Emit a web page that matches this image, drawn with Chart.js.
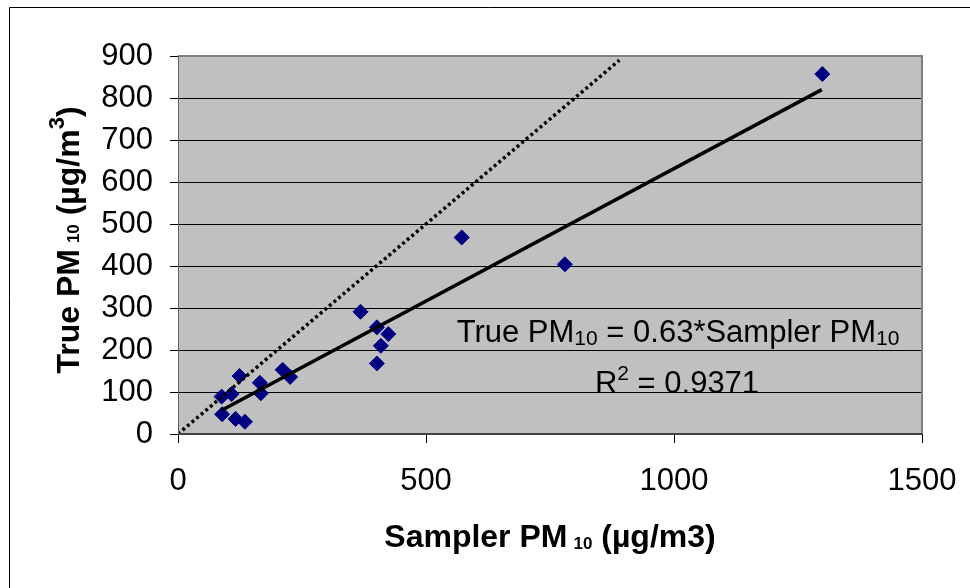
<!DOCTYPE html>
<html>
<head>
<meta charset="utf-8">
<script src="https://cdn.jsdelivr.net/npm/chart.js@4"></script>
<style>
  body { margin: 0; background: #fff; }
  canvas { display: block; }
</style>
</head>
<body>
<canvas id="pmChart" width="970" height="588"></canvas>
<script>
// values
var samplerPM = [368, 401, 424, 409, 401, 211, 226, 165, 167, 124, 88, 108, 89, 116, 135, 572, 780, 1299];
var truePM    = [291, 254, 238, 210, 168, 153, 136, 122, 97, 138, 89, 95, 47, 36, 29, 468, 404, 857];

// trend line ends (True = 0.63 * Sampler) and the 1:1 line
var trendX = [89, 1298];
var trendY = [57, 820];
var oneToOneX = [0, 890];
var oneToOneY = [0, 890];

var xTicks = [0, 500, 1000, 1500];
var yTicks = [0, 100, 200, 300, 400, 500, 600, 700, 800, 900];

var FONT = '"Liberation Sans", Arial, sans-serif';

function toPoints(xs, ys) {
  return xs.map(function (x, i) { return { x: x, y: ys[i] }; });
}

// draws a row of text pieces [text, size, bold, rise, gapAfter] centred on x
function drawPieces(ctx, pieces, cx, baseline) {
  var total = 0;
  pieces.forEach(function (p) {
    ctx.font = (p[2] ? 'bold ' : '') + p[1] + 'px ' + FONT;
    p.w = ctx.measureText(p[0]).width + (p[4] || 0);
    total += p.w;
  });
  var x = cx - total / 2;
  pieces.forEach(function (p) {
    ctx.font = (p[2] ? 'bold ' : '') + p[1] + 'px ' + FONT;
    ctx.fillText(p[0], x, baseline - p[3]);
    x += p.w;
  });
}

var decorPlugin = {
  id: 'decor',
  beforeDraw: function (chart) {
    var ctx = chart.ctx, a = chart.chartArea;
    ctx.save();
    ctx.fillStyle = '#fff';
    ctx.fillRect(0, 0, chart.width, chart.height);
    // outer frame
    ctx.strokeStyle = '#000';
    ctx.lineWidth = 1;
    ctx.beginPath();
    ctx.moveTo(9.5, chart.height);
    ctx.lineTo(9.5, 7.5);
    ctx.lineTo(chart.width, 7.5);
    ctx.stroke();
    // plot area
    ctx.fillStyle = '#c0c0c0';
    ctx.fillRect(a.left, a.top, a.right - a.left, a.bottom - a.top);
    ctx.restore();
  },
  afterDatasetsDraw: function (chart) {
    var ctx = chart.ctx, a = chart.chartArea;
    ctx.save();
    ctx.strokeStyle = '#808080';
    ctx.lineWidth = 2;
    ctx.beginPath();
    ctx.moveTo(a.left, a.top);
    ctx.lineTo(a.right, a.top);
    ctx.lineTo(a.right, a.bottom);
    ctx.stroke();
    ctx.strokeStyle = '#404040';
    ctx.beginPath();
    ctx.moveTo(a.left, a.bottom);
    ctx.lineTo(a.right, a.bottom);
    ctx.stroke();
    ctx.strokeStyle = '#606060';
    ctx.lineWidth = 1;
    ctx.beginPath();
    ctx.moveTo(a.left + 0.5, a.top);
    ctx.lineTo(a.left + 0.5, a.bottom);
    ctx.stroke();
    ctx.restore();
  },
  afterDraw: function (chart) {
    var ctx = chart.ctx, a = chart.chartArea;
    ctx.save();
    ctx.fillStyle = '#000';
    ctx.textAlign = 'left';
    ctx.textBaseline = 'alphabetic';

    // x axis title
    drawPieces(ctx, [
      ['Sampler PM', 32, true, 0, 6],
      ['10', 17, true, -2],
      [' (\u00b5g/m3)', 32, true, 0]
    ], (a.left + a.right) / 2, 547);

    // y axis title
    ctx.translate(79, 240);
    ctx.rotate(-Math.PI / 2);
    drawPieces(ctx, [
      ['True PM', 32, true, 0, 6],
      ['10', 17, true, 0],
      [' (\u00b5g/m', 32, true, 0],
      ['3', 22, true, 15],
      [')', 32, true, 0]
    ], 0, 0);
    ctx.setTransform(1, 0, 0, 1, 0, 0);

    // regression annotation
    drawPieces(ctx, [
      ['True PM', 31, false, 0],
      ['10', 21, false, -3],
      [' = 0.63*Sampler PM', 31, false, 0],
      ['10', 21, false, -3]
    ], 678, 342);
    drawPieces(ctx, [
      ['R', 31, false, 0],
      ['2', 21, false, 13],
      [' = 0.9371', 31, false, 0]
    ], 677, 393);
    ctx.restore();
  }
};

var ctx = document.getElementById('pmChart').getContext('2d');
var pmChart = new Chart(ctx, {
  type: 'scatter',
  data: {
    datasets: [
      {
        label: 'Trend',
        data: toPoints(trendX, trendY),
        showLine: true,
        borderColor: '#000',
        borderWidth: 3.5,
        pointRadius: 0,
        order: 0
      },
      {
        label: '1:1',
        data: toPoints(oneToOneX, oneToOneY),
        showLine: true,
        borderColor: '#000',
        borderWidth: 3.5,
        borderDash: [3, 3],
        pointRadius: 0,
        order: 0
      },
      {
        label: 'Samples',
        data: toPoints(samplerPM, truePM),
        pointStyle: 'rectRot',
        pointRadius: 7.5,
        pointHoverRadius: 7.5,
        backgroundColor: '#000080',
        borderColor: '#000080',
        borderWidth: 1,
        order: 1
      }
    ]
  },
  options: {
    responsive: false,
    animation: false,
    layout: { padding: { top: 56, right: 48, left: 0, bottom: 0 } },
    plugins: {
      legend: { display: false },
      tooltip: { enabled: false }
    },
    scales: {
      x: {
        type: 'linear',
        min: 0,
        max: 1500,
        afterFit: function (scale) {
          scale.height = 154;
          scale.paddingLeft = 0;
          scale.paddingRight = 0;
        },
        afterBuildTicks: function (scale) {
          scale.ticks = xTicks.map(function (v) { return { value: v }; });
        },
        grid: { drawOnChartArea: false, color: '#000', tickLength: 9 },
        border: { display: false },
        ticks: {
          color: '#000',
          padding: 20,
          font: { family: FONT, size: 31 },
          callback: function (v) { return String(v); }
        }
      },
      y: {
        type: 'linear',
        min: 0,
        max: 900,
        afterFit: function (scale) {
          scale.width = 178;
          scale.paddingTop = 0;
          scale.paddingBottom = 0;
        },
        afterBuildTicks: function (scale) {
          scale.ticks = yTicks.map(function (v) { return { value: v }; });
        },
        grid: { color: '#000', tickLength: 8 },
        border: { display: false },
        ticks: {
          color: '#000',
          padding: 17,
          font: { family: FONT, size: 31 },
          callback: function (v) { return String(v); }
        }
      }
    }
  },
  plugins: [decorPlugin]
});
</script>
</body>
</html>
